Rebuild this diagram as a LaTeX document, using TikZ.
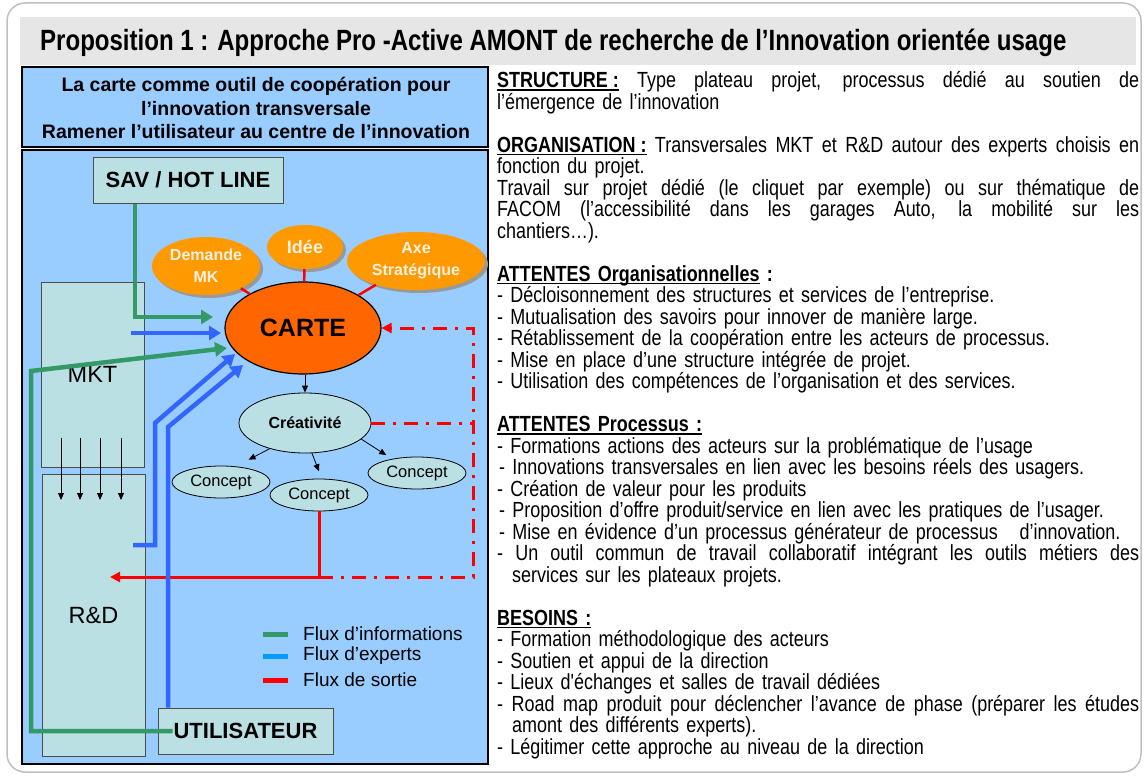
\documentclass[tikz,border=0pt]{standalone}
\usepackage{fontspec}
\setmainfont{Liberation Sans}
\newfontfamily\narrowfont[FakeStretch=0.82]{Liberation Sans}
\usetikzlibrary{arrows.meta,shapes.geometric,shadows}
\definecolor{bgblue}{HTML}{99CCFF}
\definecolor{boxteal}{HTML}{BBE0E3}
\definecolor{carteor}{HTML}{FF6600}
\definecolor{idor}{HTML}{FF9900}
\definecolor{grn}{HTML}{339966}
\definecolor{blu}{HTML}{3366FF}
\definecolor{legblu}{HTML}{0099FF}
\definecolor{redl}{HTML}{FF0000}
\definecolor{bandgray}{HTML}{E6E6E6}
\definecolor{framegray}{HTML}{BFBFBF}
\definecolor{ortxt}{HTML}{FFF2E2}
\newcommand{\jl}[1]{\makebox[642pt][s]{\spaceskip=\fontdimen2\font plus 1fil\relax #1}}
\newsavebox{\ulbox}
\newcommand{\ulx}[1]{\leavevmode\sbox{\ulbox}{#1}\rlap{\rule[-2.6pt]{\wd\ulbox}{1.3pt}}\usebox{\ulbox}}
\begin{document}
\begin{tikzpicture}[x=1pt,y=-1pt,
  tbox/.style={draw=black!70, fill=boxteal, line width=1pt, inner sep=0pt},
  orell/.style={ellipse, fill=idor, inner sep=0pt, text=ortxt, align=center,
    font=\bfseries\fontsize{16}{22}\selectfont,
    drop shadow={shadow xshift=3pt, shadow yshift=-3pt, fill=black!40, opacity=1}},
  tealell/.style={ellipse, draw=black, line width=0.8pt, fill=boxteal, inner sep=0pt},
  flow/.style={line width=4.5pt, -{Triangle[length=12pt,width=14pt]}},
  thinarr/.style={line width=0.8pt, -{Triangle[length=7pt,width=6pt]}},
  redsolid/.style={redl, line width=3pt},
  reddd/.style={redl, line width=3pt, dash pattern=on 14pt off 8pt on 3pt off 8pt},
  redtip/.style={-{Triangle[length=10pt,width=10pt]}},
  legline/.style={line width=5pt},
  legtext/.style={anchor=west, font=\fontsize{19}{22}\selectfont, inner sep=0pt}
]
\useasboundingbox (0,0) rectangle (1144,776);
% frame and title band
\draw[framegray, line width=1.5pt, rounded corners=18pt] (7,3) rectangle (1141,772);
\fill[bandgray] (20,17) rectangle (1136,65);
\node[anchor=base west, inner sep=0pt, font=\narrowfont\bfseries\fontsize{29.3}{32}\selectfont] (title) at (40,51)
  {Proposition 1 : Approche Pro -Active AMONT de recherche de l’Innovation orientée usage};
% header box
\draw[fill=bgblue, draw=black, line width=1.5pt] (22,67) rectangle (488,147);
\node[align=center, inner sep=0pt, font=\bfseries\fontsize{19.5}{23.5}\selectfont] (hdr) at (256,108)
  {La carte comme outil de coopération pour\\ l’innovation transversale\\ Ramener l’utilisateur au centre de l’innovation};
% diagram box
\draw[fill=bgblue, draw=black, line width=1.5pt] (22,150) rectangle (488,764);
% boxes
\node[tbox, minimum width=103pt, minimum height=185pt, font=\fontsize{23.5}{28}\selectfont] (mkt) at (92.5,374.5) {MKT};
\node[tbox, minimum width=103pt, minimum height=282pt, font=\fontsize{23.5}{28}\selectfont] (rd) at (93.5,615) {R\&D};
\node[tbox, minimum width=190pt, minimum height=46pt, font=\bfseries\fontsize{22}{26}\selectfont] (sav) at (188,180) {SAV / HOT LINE};
\node[tbox, minimum width=175pt, minimum height=46pt, font=\bfseries\fontsize{22}{26}\selectfont] (utl) at (245.5,731) {UTILISATEUR};
% ellipses
\node[orell, minimum width=108pt, minimum height=58pt] (dem) at (206,266) {Demande\\MK};
\node[orell, minimum width=76pt, minimum height=44pt, font=\bfseries\fontsize{18}{22}\selectfont] (idee) at (305,247) {Idée};
\node[orell, minimum width=138pt, minimum height=58pt] (axe) at (416,261) {Axe\\Stratégique};
\node[ellipse, draw=black, line width=1.2pt, fill=carteor, inner sep=0pt, minimum width=156pt, minimum height=92pt,
  font=\bfseries\fontsize{25}{30}\selectfont] (carte) at (303,328) {CARTE};
\node[tealell, minimum width=132pt, minimum height=60pt, font=\bfseries\fontsize{16}{20}\selectfont] (crea) at (305,423) {Créativité};
\node[tealell, minimum width=98pt, minimum height=32pt, font=\fontsize{16.5}{20}\selectfont] (c1) at (221,482) {Concept};
\node[tealell, minimum width=98pt, minimum height=32pt, font=\fontsize{16.5}{20}\selectfont] (c2) at (319,495) {Concept};
\node[tealell, minimum width=98pt, minimum height=32pt, font=\fontsize{16.5}{20}\selectfont] (c3) at (417,473) {Concept};
% red links to CARTE
\draw[redl, line width=2.5pt] (dem) -- (carte);
\draw[redl, line width=2.5pt] (idee) -- (carte);
\draw[redl, line width=2.5pt] (axe) -- (carte);
% CARTE -> creativite -> concepts
\draw[thinarr] (carte.south -| crea.north) -- (crea.north);
\draw[thinarr] (crea.216) -- ++(-21,11);
\draw[thinarr] (crea.283) -- ++(7,18);
\draw[thinarr] (crea.344) -- ++(25,16);
% MKT -> R&D arrows
\foreach \x in {61,80,100,121} {
  \coordinate (d\x) at (\x,438);
  \draw[thinarr] (d\x) -- ++(0,62);
}
% red flows
\coordinate (r1) at (319,577);
\coordinate (r1e) at (110,577);
\coordinate (r2) at (473,577);
\coordinate (r3) at (473,328);
\draw[redsolid, redtip] (c2.south) -- (r1) -- (r1e);
\draw[reddd, redtip] (r1) -- (r2) -- (r3) -- (carte.east);
\draw[reddd] (crea.east) -- (crea.east -| r2);
% green flows
\coordinate (g1) at (135,317);
\coordinate (g1e) at (213,317);
\draw[flow, grn] (sav.south -| g1) -- (g1) -- (g1e);
\coordinate (g2a) at (31,731);
\coordinate (g2b) at (31,371);
\coordinate (g2e) at (227,348);
\draw[flow, grn] ([xshift=15pt]utl.west) -- (g2a) -- (g2b) -- (g2e);
% blue flows
\coordinate (b1s) at (131,333);
\coordinate (b1e) at (221,333);
\draw[flow, blu] (b1s) -- (b1e);
\coordinate (b2s) at (133,545);
\coordinate (b2a) at (155,545);
\coordinate (b2b) at (155,423);
\coordinate (b2e) at (235,354);
\draw[flow, blu] (b2s) -- (b2a) -- (b2b) -- (b2e);
\coordinate (b3a) at (168,427);
\coordinate (b3e) at (243,365);
\draw[flow, blu] (utl.north -| b3a) -- (b3a) -- (b3e);
% legend
\draw[legline, grn] (263,634) -- (288,634);
\draw[legline, legblu] (263,656) -- (288,656);
\draw[legline, redl] (263,680) -- (288,680);
\node[legtext] (l1) at (303,634) {Flux d’informations};
\node[legtext] (l2) at (303,656) {Flux d’experts};
\node[legtext] (l3) at (303,680) {Flux de sortie};
% right text
\node[anchor=base west, text width=642pt, inner sep=0pt, align=left,
  font=\narrowfont\fontsize{21.9}{21.5}\selectfont] (txt) at (497,88) {%
\jl{\ulx{\textbf{STRUCTURE  :}} Type plateau projet, processus dédié au soutien de}\\
l’émergence de l’innovation\\[21.5pt]
\jl{\ulx{\textbf{ORGANISATION :}} Transversales MKT et R\&D autour des experts choisis en}\\
fonction du projet.\\
\jl{Travail sur projet dédié (le cliquet par exemple) ou sur thématique de}\\
\jl{FACOM (l’accessibilité dans les garages Auto, la mobilité sur les}\\
chantiers…).\\[21.5pt]
\ulx{\textbf{ATTENTES Organisationnelles}}\textbf{ :}\\
- Décloisonnement des structures et services de l’entreprise.\\
- Mutualisation des savoirs pour innover de manière large.\\
- Rétablissement de la coopération entre les acteurs de processus.\\
- Mise en place d’une structure intégrée de projet.\\
- Utilisation des compétences de l’organisation et des services.\\[21.5pt]
\ulx{\textbf{ATTENTES Processus :}}\\
- Formations actions des acteurs sur la problématique de l’usage\\
\hspace*{2pt}- Innovations transversales en lien avec les besoins réels des usagers.\\
- Création de valeur pour les produits\\
\hspace*{2pt}- Proposition d’offre produit/service en lien avec les pratiques de l’usager.\\
\hspace*{2pt}- Mise en évidence d’un processus générateur de processus\ \ \ d’innovation.\\
\jl{- Un outil commun de travail collaboratif intégrant les outils métiers des}\\
\hspace*{15pt}services sur les plateaux projets.\\[21.5pt]
\ulx{\textbf{BESOINS :}}\\
- Formation méthodologique des acteurs\\
- Soutien et appui de la direction\\
- Lieux d'échanges et salles de travail dédiées\\
\jl{- Road map produit pour déclencher l’avance de phase (préparer les études}\\
\hspace*{15pt}amont des différents experts).\\
- Légitimer cette approche au niveau de la direction};
\end{tikzpicture}
\end{document}
